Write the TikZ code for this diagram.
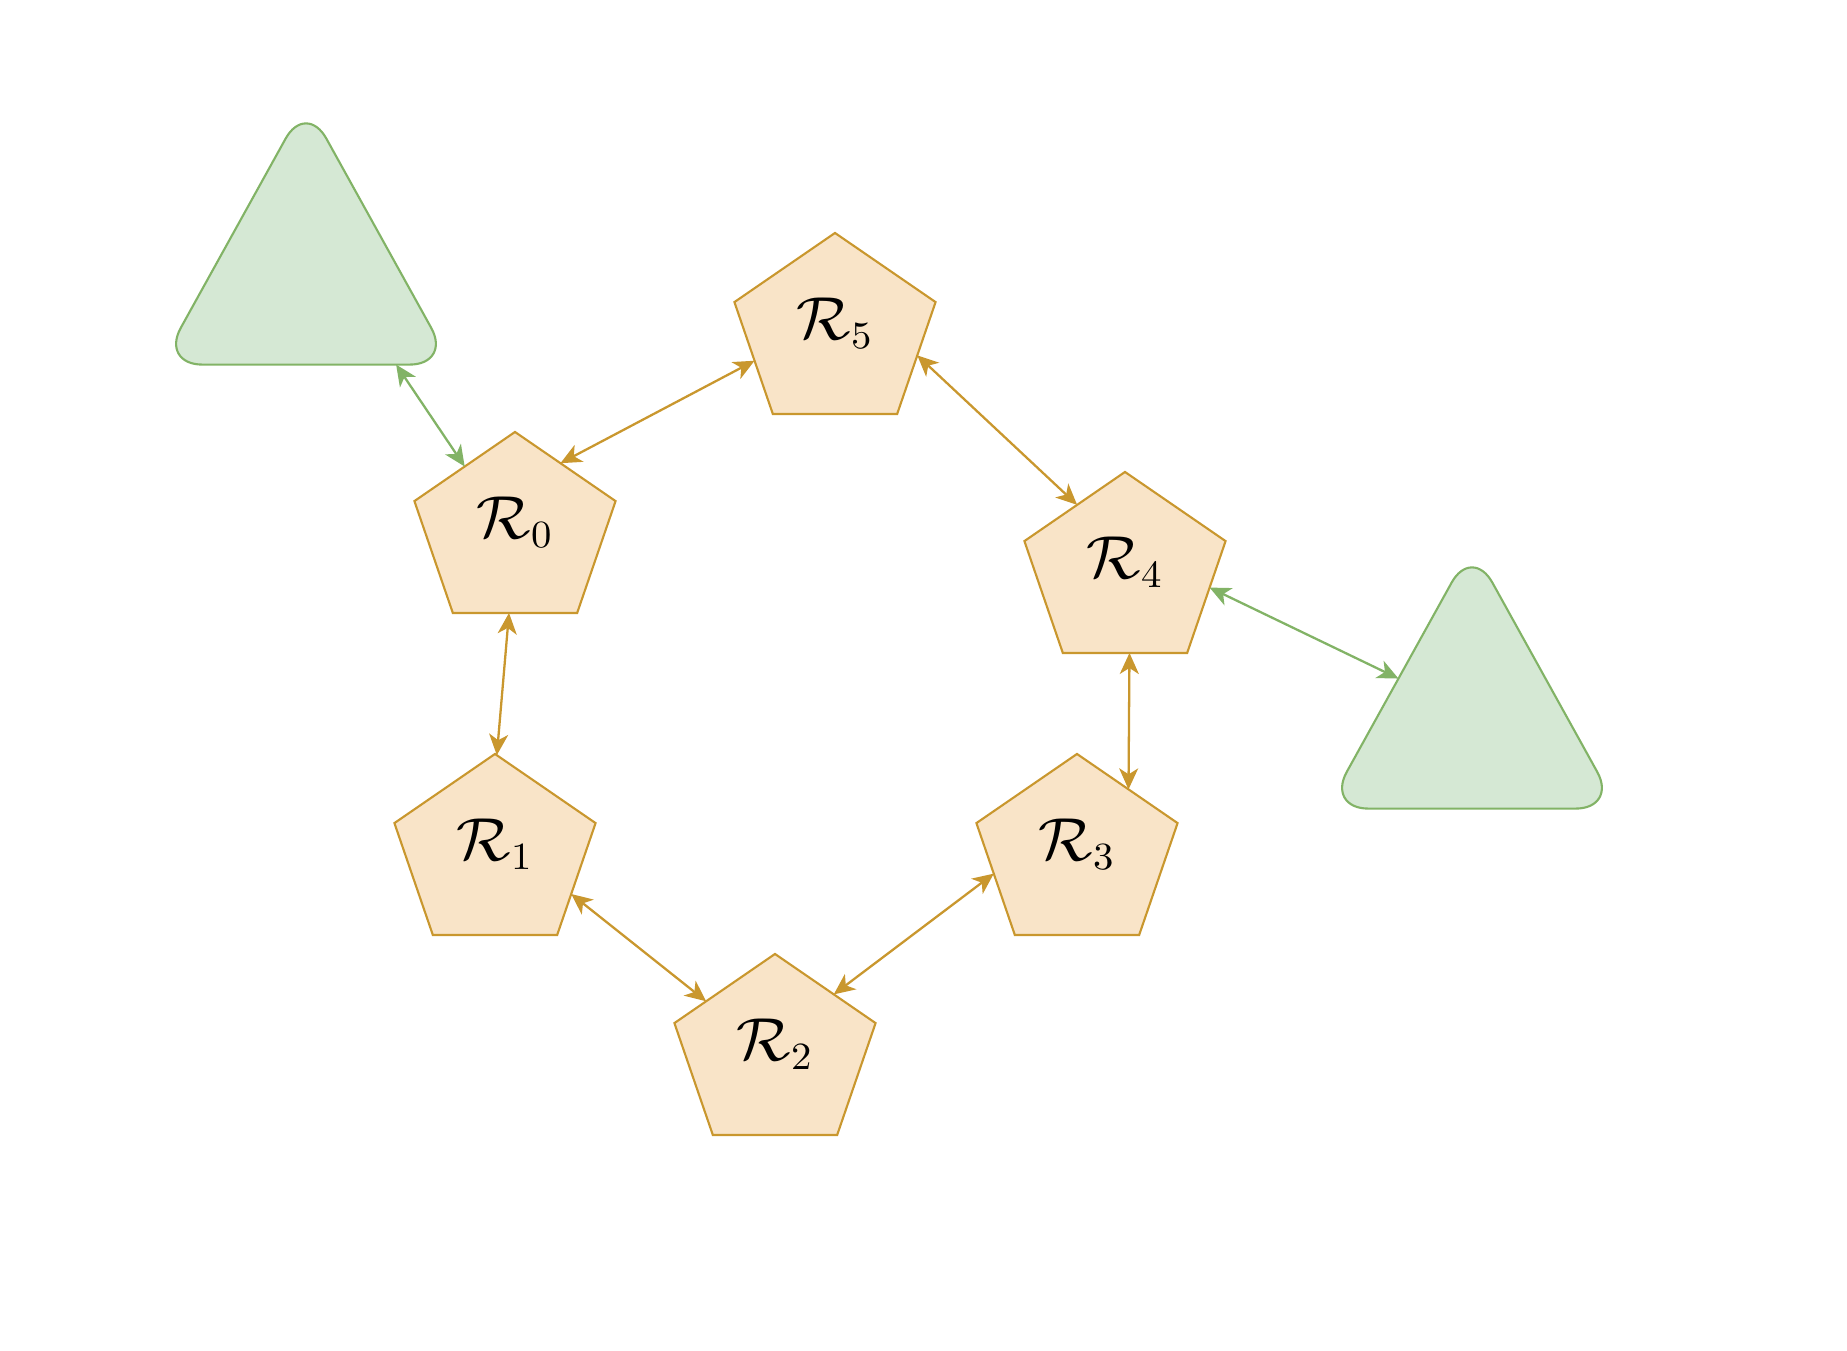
\documentclass[tikz,border=0pt]{standalone}
\usepackage{amsmath,amssymb}
\usepackage{tikz}
\usetikzlibrary{arrows.meta,shapes.geometric}

\definecolor{peachfill}{HTML}{F9E4C8}
\definecolor{peachline}{HTML}{C9972E}
\definecolor{leaffill}{HTML}{D5E8D4}
\definecolor{leafline}{HTML}{82B366}

\newcommand{\rlab}[1]{\raisebox{0.1cm}[\height][\depth]{$\mathcal{R}_{#1}$}}

\begin{document}
\begin{tikzpicture}[
  x=0.01cm,y=-0.01cm,
  pent/.style={regular polygon, regular polygon sides=5, minimum size=2cm, inner sep=0pt, outer sep=0pt, xscale=1.057, draw=peachline, fill=peachfill, line width=0.6pt, font=\fontsize{16}{19}\selectfont},
  tri/.style={regular polygon, regular polygon sides=3, minimum size=3.36cm, inner sep=0pt, outer sep=0pt, yscale=1.042, rounded corners=0.42cm, draw=leafline, fill=leaffill, line width=0.6pt},
  link/.style={{Stealth[length=2.1mm,width=1.9mm,inset=0.6mm]}-{Stealth[length=2.1mm,width=1.9mm,inset=0.6mm]}, line width=0.65pt, draw=peachline, fill=peachline},
  glink/.style={link, draw=leafline, fill=leafline}
]
\useasboundingbox (0,0) rectangle (1847,1350);

\node[tri] (t1) at (306,277) {};
\node[tri] (t2) at (1472,721) {};

\node[pent] (r0) at (515,532) {\rlab{0}};
\node[pent] (r5) at (835,333) {\rlab{5}};
\node[pent] (r4) at (1125,572) {\rlab{4}};
\node[pent] (r1) at (495,854) {\rlab{1}};
\node[pent] (r3) at (1077,854) {\rlab{3}};
\node[pent] (r2) at (775,1054) {\rlab{2}};

\draw[glink] (t1.317) -- (r0.126);
\draw[link] (r0.58) -- (r5.200);
\draw[link] (r5.344) -- (r4.124);
\draw[link] (r0.266) -- (r1.89);
\draw[link] (r1.331) -- (r2.141);
\draw[link] (r2.47) -- (r3.194);
\draw[link] (r3.53) -- (r4.273);
\draw[glink] (r4.349) -- (t2.151);
\end{tikzpicture}
\end{document}
